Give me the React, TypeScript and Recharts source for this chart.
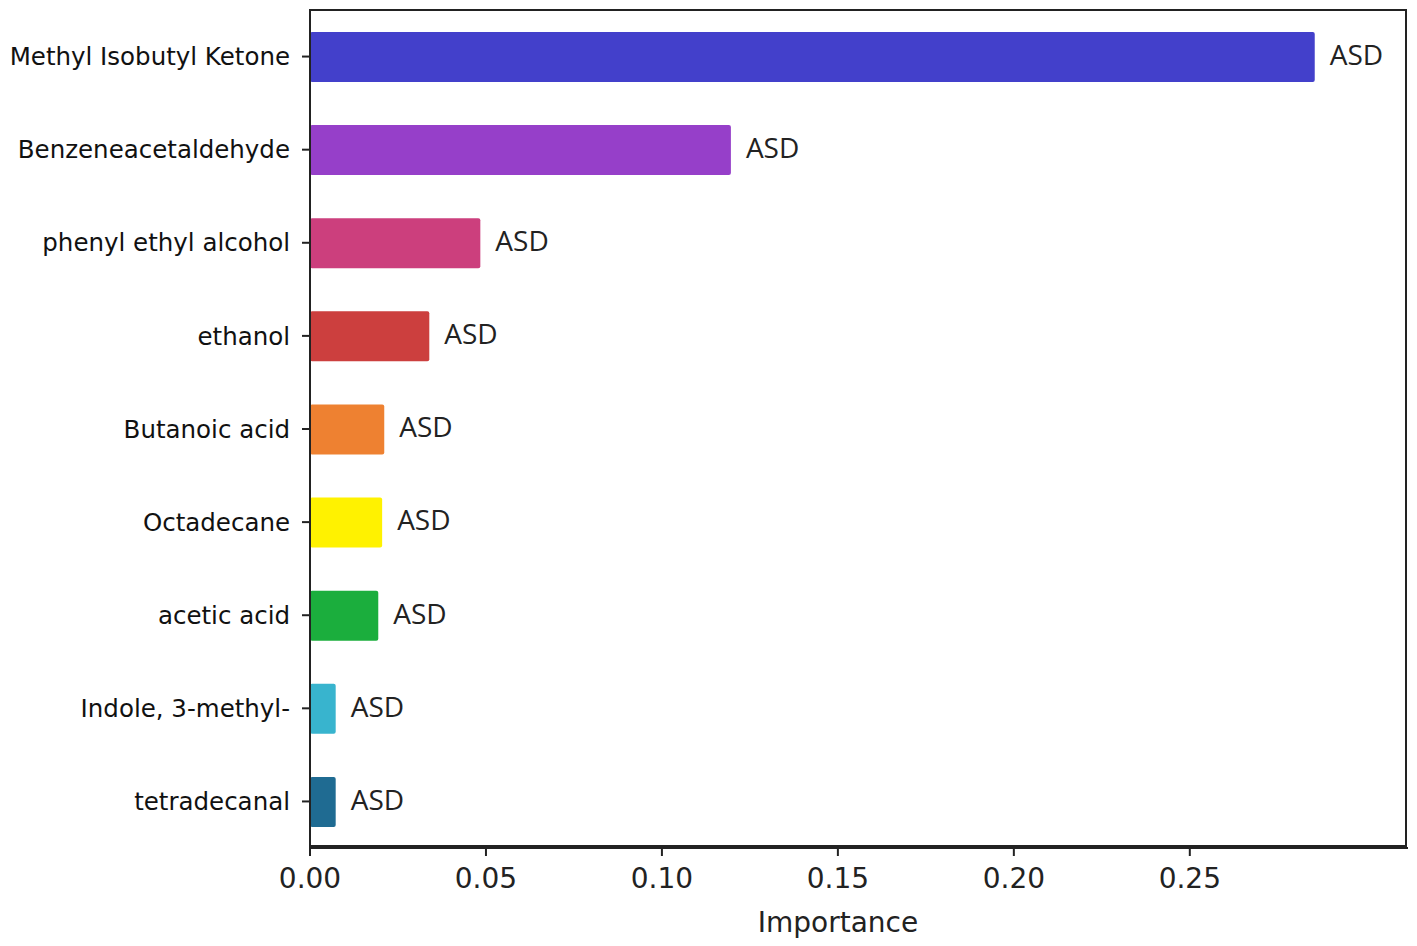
import React from "react";
import { BarChart, Bar, XAxis, YAxis, Cell, LabelList } from "recharts";

const compounds = [
  "Methyl Isobutyl Ketone",
  "Benzeneacetaldehyde",
  "phenyl ethyl alcohol",
  "ethanol",
  "Butanoic acid",
  "Octadecane",
  "acetic acid",
  "Indole, 3-methyl-",
  "tetradecanal",
];
const importance = [0.2855, 0.1196, 0.0484, 0.0339, 0.0211, 0.0205, 0.0194, 0.0073, 0.0073];
const groups = ["ASD", "ASD", "ASD", "ASD", "ASD", "ASD", "ASD", "ASD", "ASD"];
const barColors = [
  "#4340CB",
  "#963FC9",
  "#CC3F7D",
  "#CC3F3E",
  "#EE8131",
  "#FFF200",
  "#1BAE3D",
  "#38B4CE",
  "#1F6B92",
];
const xTicks = [0, 0.05, 0.1, 0.15, 0.2, 0.25];

const data = compounds.map((name, i) => ({
  name,
  value: importance[i],
  group: groups[i],
}));

const W = 1417;
const H = 946;
const M = { top: 10, right: 9, bottom: 38, left: 0 };
const Y_W = 310;
const X_H = 60;

export default function App() {
  return (
    <div style={{ position: "absolute", left: 0, top: 0, width: W, height: H, background: "#fff" }}>
      <BarChart width={W} height={H} data={data} layout="vertical" margin={M}>
        <XAxis
          type="number"
          domain={[0, 0.312]}
          ticks={xTicks}
          tickFormatter={(v) => v.toFixed(2)}
          height={X_H}
          tickSize={8}
          tickMargin={12}
          tickLine={{ stroke: "#222", strokeWidth: 2 }}
          axisLine={{ stroke: "#222", strokeWidth: 2 }}
          tick={{ fill: "#222", fontSize: 28, fontFamily: "DejaVu Sans" }}
          label={{
            value: "Importance",
            position: "insideBottom",
            offset: -24,
            dx: -21,
            fill: "#222",
            fontSize: 28,
            fontFamily: "DejaVu Sans",
          }}
        />
        <YAxis
          type="category"
          dataKey="name"
          width={Y_W}
          tickSize={8}
          tickMargin={12}
          tickLine={{ stroke: "#222", strokeWidth: 2 }}
          axisLine={{ stroke: "#222", strokeWidth: 2 }}
          tick={{ fill: "#111", fontSize: 24.5, fontFamily: "DejaVu Sans" }}
          interval={0}
        />
        <Bar dataKey="value" barSize={50} radius={2} isAnimationActive={false}>
          {data.map((d, i) => (
            <Cell key={d.name} fill={barColors[i]} />
          ))}
          <LabelList
            dataKey="group"
            position="right"
            offset={15}
            dy={-2}
            fill="#222"
            fontSize={28}
            fontFamily="Open Sans"
          />
        </Bar>
      </BarChart>
      <div
        style={{
          position: "absolute",
          left: Y_W - 1,
          top: M.top - 1,
          width: W - Y_W - M.right,
          height: H - M.top - M.bottom - X_H,
          border: "2px solid #222",
          boxSizing: "border-box",
          pointerEvents: "none",
        }}
      />
    </div>
  );
}
